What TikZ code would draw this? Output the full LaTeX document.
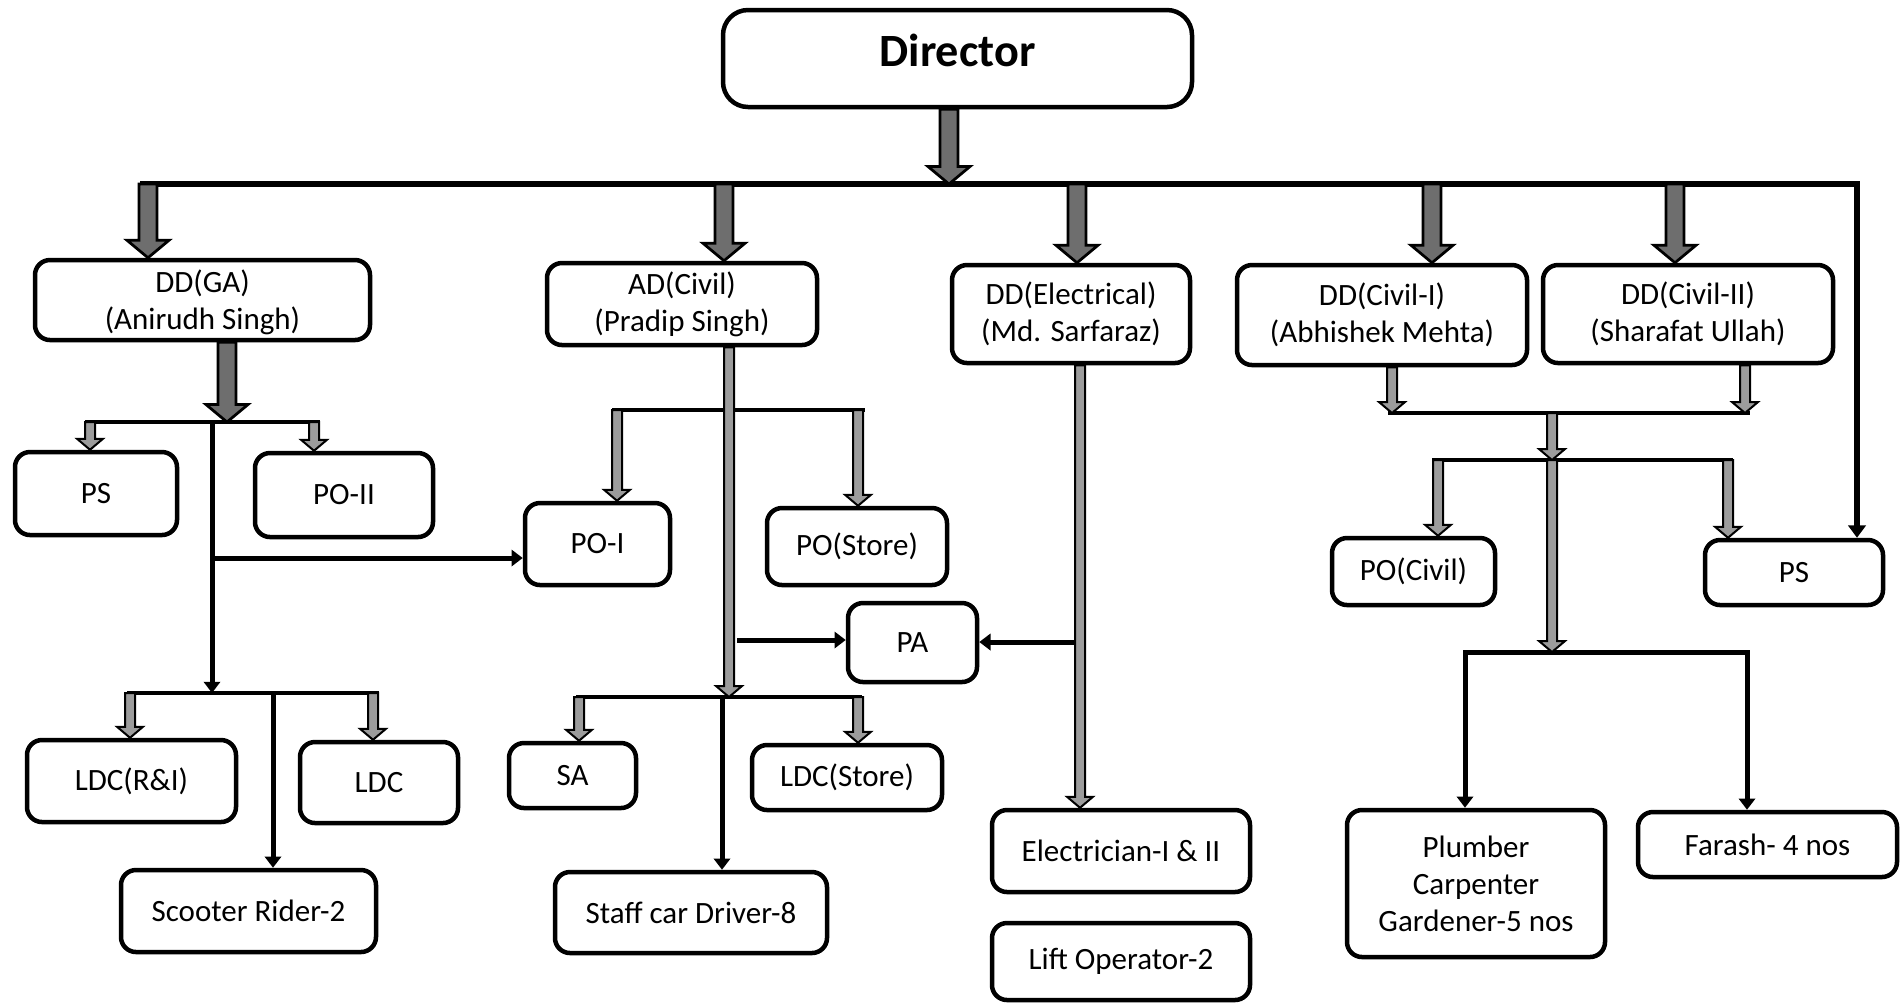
\documentclass[tikz,border=0pt]{standalone}
\usepackage{fontspec}
\setmainfont{Carlito}
\usetikzlibrary{arrows.meta,calc}
\definecolor{bigfill}{HTML}{6E6E6E}
\definecolor{smallfill}{HTML}{9C9C9C}
\tikzset{
  box/.style={draw, line width=1.8pt, rounded corners=6pt, fill=white, align=center, inner sep=2pt,
    font=\fontsize{12.4}{14.8}\selectfont},
  bigarr/.style={draw, fill=bigfill, line width=1.1pt, line join=miter},
  smallarr/.style={draw, fill=smallfill, line width=0.8pt, line join=miter},
  busline/.style={line width=2.2pt},
  subbus/.style={line width=1.7pt},
  conn/.style={line width=2pt, -{Triangle[width=6.5pt,length=4.5pt]}}
}
% vertical block arrow: style, start, end, shaft half width, head half width, head length
\newcommand\vblk[6]{\path[#1] let \p1=#2, \p2=#3 in
  (\x1-#4,\y1) -- (\x1+#4,\y1) -- (\x1+#4,\y2+#6) -- (\x1+#5,\y2+#6) -- (\x1,\y2)
  -- (\x1-#5,\y2+#6) -- (\x1-#4,\y2+#6) -- cycle;}
\newcommand\bigarrow[2]{\vblk{bigarr}{#1}{#2}{3.6pt}{8.4pt}{7pt}}
\newcommand\smallarrow[2]{\vblk{smallarr}{#1}{#2}{2pt}{5.2pt}{4.4pt}}
% box: [opts]{name}{x1}{y1}{x2}{y2}{text}
\newcommand\bx[7][]{\node[box,minimum width={(#5-#3)*0.4pt},minimum height={(#6-#4)*0.4pt},#1]
  (#2) at ({(#3+#5)/2},{(#4+#6)/2}) {#7};}
\begin{document}
\begin{tikzpicture}[x=0.4pt,y=-0.4pt]
\fill[white] (0,0) rectangle (1900,1003);
\useasboundingbox (0,0) rectangle (1900,1003);

% ---- boxes ----
\bx[font=\fontsize{18.5}{21}\selectfont\bfseries, text depth=6.7pt, rounded corners=10pt]{Director}{723}{10}{1192}{107}{Director}
\bx[text depth=0pt]{DDGA}{35}{260}{370}{340}{DD(GA)\\(Anirudh Singh)}
\bx{ADCivil}{547}{263}{817}{345}{AD(Civil)\\(Pradip Singh)}
\bx{DDElec}{952}{265}{1190}{363}{DD(Electrical)\\(Md. Sarfaraz)}
\bx{DDCa}{1237}{265}{1527}{365}{DD(Civil-I)\\(Abhishek Mehta)}
\bx{DDCb}{1543}{265}{1833}{363}{DD(Civil-II)\\(Sharafat Ullah)}
\bx{PSl}{15}{452}{177}{535}{PS}
\bx{POII}{255}{453}{433}{537}{PO-II}
\bx{POI}{525}{503}{670}{585}{PO-I}
\bx{POStore}{767}{508}{947}{585}{PO(Store)}
\bx{PA}{848}{603}{977}{682}{PA}
\bx{POCivil}{1332}{538}{1495}{605}{PO(Civil)}
\bx{PSr}{1705}{540}{1883}{605}{PS}
\bx{LDCRI}{27}{740}{236}{822}{LDC(R\&I)}
\bx{LDC}{300}{742}{458}{823}{LDC}
\bx{Scooter}{121}{870}{376}{952}{Scooter Rider-2}
\bx{SA}{509}{743}{636}{808}{SA}
\bx{LDCStore}{752}{745}{942}{810}{LDC(Store)}
\bx{Staff}{555}{872}{827}{953}{Staff car Driver-8}
\bx{Elec}{992}{810}{1250}{892}{Electrician-I \& II}
\bx{Lift}{992}{923}{1250}{1000}{Lift Operator-2}
\bx{Plumber}{1347}{810}{1605}{957}{Plumber\\Carpenter\\Gardener-5 nos}
\bx{Farash}{1638}{812}{1897}{877}{Farash- 4 nos}

% ---- main bus ----
\draw[busline, line join=miter, -{Triangle[width=7pt,length=5pt]}] (140,184) -- (1857,184) -- (1857,0 |- PSr.north);
\bigarrow{(949,0 |- Director.south)}{(949,184)}
\bigarrow{(148,184)}{(148,0 |- DDGA.north)}
\bigarrow{(724,184)}{(724,0 |- ADCivil.north)}
\bigarrow{(1077,184)}{(1077,0 |- DDElec.north)}
\bigarrow{(1432,184)}{(1432,0 |- DDCa.north)}
\bigarrow{(1675,184)}{(1675,0 |- DDCb.north)}

% ---- DD(GA) branch ----
\draw[subbus] (85,422) -- (320,422);
\draw[conn] (212,422) -- (212,693);
\draw[conn] (212,558) -- (POI.west |- 212,558);
\draw[subbus] (127,693) -- (379,693);
\draw[conn] (273,693) -- (273,0 |- Scooter.north);
\bigarrow{(227,0 |- DDGA.south)}{(227,422)}
\smallarrow{(90,422)}{(90,0 |- PSl.north)}
\smallarrow{(314,422)}{(314,0 |- POII.north)}
\smallarrow{(130,693)}{(130,0 |- LDCRI.north)}
\smallarrow{(373,693)}{(373,0 |- LDC.north)}

% ---- AD(Civil) branch ----
\draw[subbus] (612,410) -- (865,410);
\draw[subbus] (576,697) -- (862,697);
\draw[conn] (737,640) -- (PA.west |- 737,640);
\draw[conn] (722,697) -- (722,0 |- Staff.north);
\smallarrow{(729,0 |- ADCivil.south)}{(729,697)}
\smallarrow{(617,410)}{(617,0 |- POI.north)}
\smallarrow{(858,410)}{(858,0 |- POStore.north)}
\smallarrow{(579,697)}{(579,0 |- SA.north)}
\smallarrow{(858,697)}{(858,0 |- LDCStore.north)}

% ---- DD(Electrical) branch ----
\draw[conn] (1074,642) -- (PA.east |- 1074,642);
\smallarrow{(1080,0 |- DDElec.south)}{(1080,0 |- Elec.north)}

% ---- DD(Civil) branch ----
\draw[subbus] (1388,413) -- (1750,413);
\draw[subbus] (1432,460) -- (1733,460);
\draw[conn, line join=miter] (1552,652) -| (1465,0 |- Plumber.north);
\draw[conn, line join=miter] (1552,652) -| (1747,0 |- Farash.north);
\smallarrow{(1392,0 |- DDCa.south)}{(1392,413)}
\smallarrow{(1745,0 |- DDCb.south)}{(1745,413)}
\smallarrow{(1552,413)}{(1552,460)}
\smallarrow{(1552,460)}{(1552,652)}
\smallarrow{(1438,460)}{(1438,0 |- POCivil.north)}
\smallarrow{(1728,460)}{(1728,0 |- PSr.north)}
\end{tikzpicture}
\end{document}
